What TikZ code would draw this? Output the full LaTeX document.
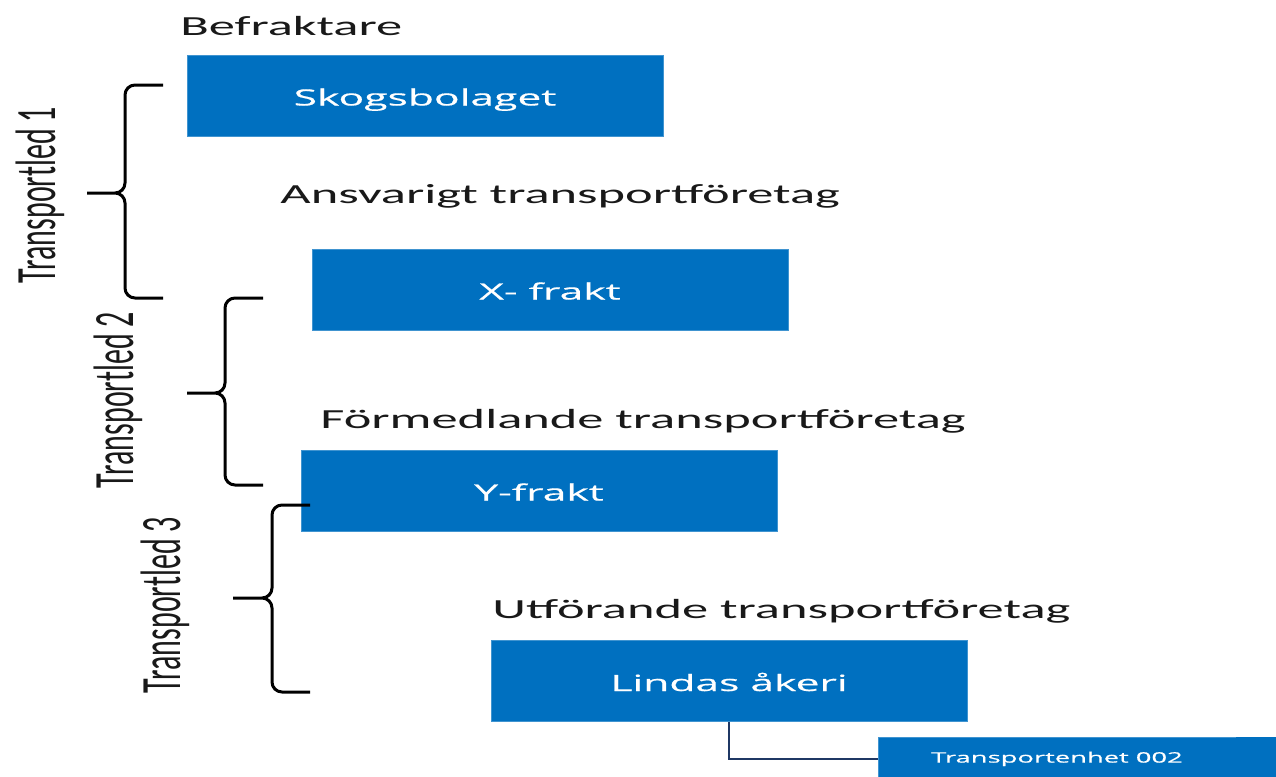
\documentclass[tikz,border=0pt]{standalone}
\usepackage{fontspec}
\setmainfont{Carlito}
\newfontfamily\rolefont[FakeStretch=1.9]{Carlito}
\newfontfamily\boxfont[FakeStretch=1.9,FakeBold=0.6]{Open Sans}
\newfontfamily\ledfont[FakeStretch=0.526]{Carlito}
\usetikzlibrary{positioning,calc}
\definecolor{boxblue}{RGB}{0,112,192}
\definecolor{linknavy}{RGB}{31,56,100}

\begin{document}
\begin{tikzpicture}[
    x=0.5pt, y=-0.5pt,
    box/.style={fill=boxblue, draw=boxblue!75!white, line width=0.4pt, minimum width=238pt, minimum height=40.5pt, inner sep=0pt, text height=10pt, text depth=0pt, text=white, font=\boxfont\fontsize{11.2}{13}\selectfont},
    role/.style={anchor=base west, inner sep=0pt, text=black!90, font=\rolefont\fontsize{13.8}{16}\selectfont},
    led/.style={rotate=90, inner sep=0pt, text=black!90, font=\ledfont\fontsize{28.5}{30}\selectfont},
    brace/.style={line width=1.5pt, rounded corners=5pt}
]
\useasboundingbox (0,0) rectangle (1276,777);
\clip (0,0) rectangle (1276,777);

% roles
\node[role] (befr) at (180,35) {Befraktare};
\node[role] (ansv) at (280,203) {Ansvarigt transportföretag};
\node[role] (form) at (320,428) {Förmedlande transportföretag};
\node[role] (utf) at (492,618) {Utförande transportföretag};

% companies
\node[box] (skog) at (425,95.5) {Skogsbolaget};
\node[box] (xfrakt) at (550,289.5) {X- frakt};
\node[box] (yfrakt) at (539,490.5) {Y-frakt};
\node[box] (lindas) at (729,681) {Lindas åkeri};
\node[box, minimum width=179pt, minimum height=22pt, text height=3.6pt, font=\boxfont\fontsize{7.2}{9}\selectfont] (enhet) at (1057,759) {Transportenhet 002};
\fill[boxblue] (enhet.north east) rectangle (1290,790);
\draw[linknavy, line width=1pt] (lindas.south) |- (enhet.west);

% transport links
\foreach \xr/\xv/\xt/\yt/\ym/\yb in {163/125/87/85/193/298, 263/225/187/298/393/485, 310/272/233/505/598/692}
    \draw[brace] (\xr,\yt) -- (\xv,\yt) -- (\xv,\ym) -- (\xt,\ym)
        (\xt,\ym) -- (\xv,\ym) -- (\xv,\yb) -- (\xr,\yb);
\node[led] (led1) at (40,195) {Transportled 1};
\node[led] (led2) at (118,400) {Transportled 2};
\node[led] (led3) at (165,605) {Transportled 3};
\end{tikzpicture}
\end{document}
